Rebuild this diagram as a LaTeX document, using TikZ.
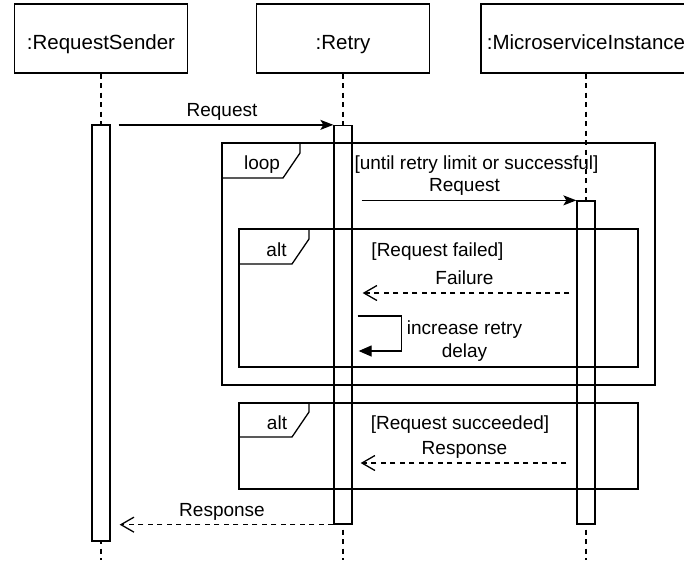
\documentclass[tikz,border=0pt]{standalone}
\usepackage{fontspec}
\setmainfont{Liberation Sans}
\usetikzlibrary{arrows.meta, calc}

\begin{document}
\begin{tikzpicture}[x=1pt, y=-1pt, line width=1.3pt,
    head/.style={draw, minimum height=69pt, inner sep=0pt,
      font=\fontsize{20.5}{24}\selectfont, text height=25pt, text depth=4pt},
    bar/.style={draw, fill=white, minimum width=18pt, inner sep=0pt},
    lifeline/.style={dash pattern=on 5pt off 4.5pt},
    txt/.style={font=\fontsize{19}{23}\selectfont, inner sep=0pt},
    lbl/.style={txt, text height=14pt, text depth=4pt},
    msg/.style={-{Stealth[length=13pt, width=10pt, inset=3pt]}},
    reply/.style={dash pattern=on 5pt off 4.5pt, -{Straight Barb[length=13pt, width=15pt]}},
    selfmsg/.style={-{Triangle[length=13pt, width=11pt]}}]
  \useasboundingbox (0,0) rectangle (684,560);
  \fill[white] (0,0) rectangle (684,560);

  % Participants
  \node[head, minimum width=173pt] (sender) at (101,38.5) {:RequestSender};
  \node[head, minimum width=173pt] (retry) at (343,38.5) {:Retry};
  \node[head, minimum width=210pt] (micro) at (586,38.5) {:MicroserviceInstance};

  % Lifelines
  \draw[lifeline] (sender.south) -- (sender.south |- 0,560);
  \draw[lifeline] (retry.south) -- (retry.south |- 0,560);
  \draw[lifeline] (micro.south) -- (micro.south |- 0,560);

  % Activation bars
  \node[bar, minimum height=416pt] (senderBar) at (101,333) {};
  \node[bar, minimum height=398.5pt] (retryBar) at (343,324.75) {};
  \node[bar, minimum height=323pt] (microBar) at (586,362.5) {};

  % loop fragment
  \draw (222,143) rectangle (655,385);
  \draw (222,178) -- (283,178) -- (300,153) -- (300,143);
  \node[txt, anchor=base] (loopTag) at (262,169.5) {loop};
  \node[txt, anchor=base] (loopGuard) at (476.5,169) {[until retry limit or successful]};

  % alt fragment (failure)
  \draw (239,229) rectangle (638,367);
  \draw (239,264) -- (292,264) -- (309,239) -- (309,229);
  \node[txt, anchor=base] (failTag) at (276.5,256.5) {alt};
  \node[txt, anchor=base] (failGuard) at (437.5,256.5) {[Request failed]};

  % alt fragment (success)
  \draw (239,403) rectangle (638,489);
  \draw (239,437) -- (292,437) -- (309,412) -- (309,403);
  \node[txt, anchor=base] (okTag) at (277,429.5) {alt};
  \node[txt, anchor=base] (okGuard) at (460,429) {[Request succeeded]};

  % Messages
  \draw[msg, shorten <=8pt] (senderBar.east |- retryBar.north) -- (retryBar.north west)
    node[lbl, midway, above=4pt] {Request};
  \draw[msg, shorten <=9pt] (retryBar.east |- microBar.north) -- (microBar.north west)
    node[lbl, midway, above=4pt] {Request};
  \draw[reply, shorten <=7pt, shorten >=10pt] (microBar.west |- 0,293) -- (retryBar.east |- 0,293)
    node[lbl, midway, above=4pt] {Failure};
  \draw[selfmsg] ($(retryBar.east |- 0,316)+(5,0)$) -- ++(44,0) -- ++(0,35) -- ++(-43,0);
  \node[txt, align=center] (delayNote) at (464.5,341) {increase retry\\delay};
  \draw[reply, shorten <=10pt, shorten >=8pt] (microBar.west |- 0,463) -- (retryBar.east |- 0,463)
    node[lbl, midway, above=4pt] {Response};
  \draw[reply, shorten >=9pt] (retryBar.south west) -- (senderBar.east |- retryBar.south)
    node[lbl, midway, above=4pt] {Response};
\end{tikzpicture}
\end{document}
